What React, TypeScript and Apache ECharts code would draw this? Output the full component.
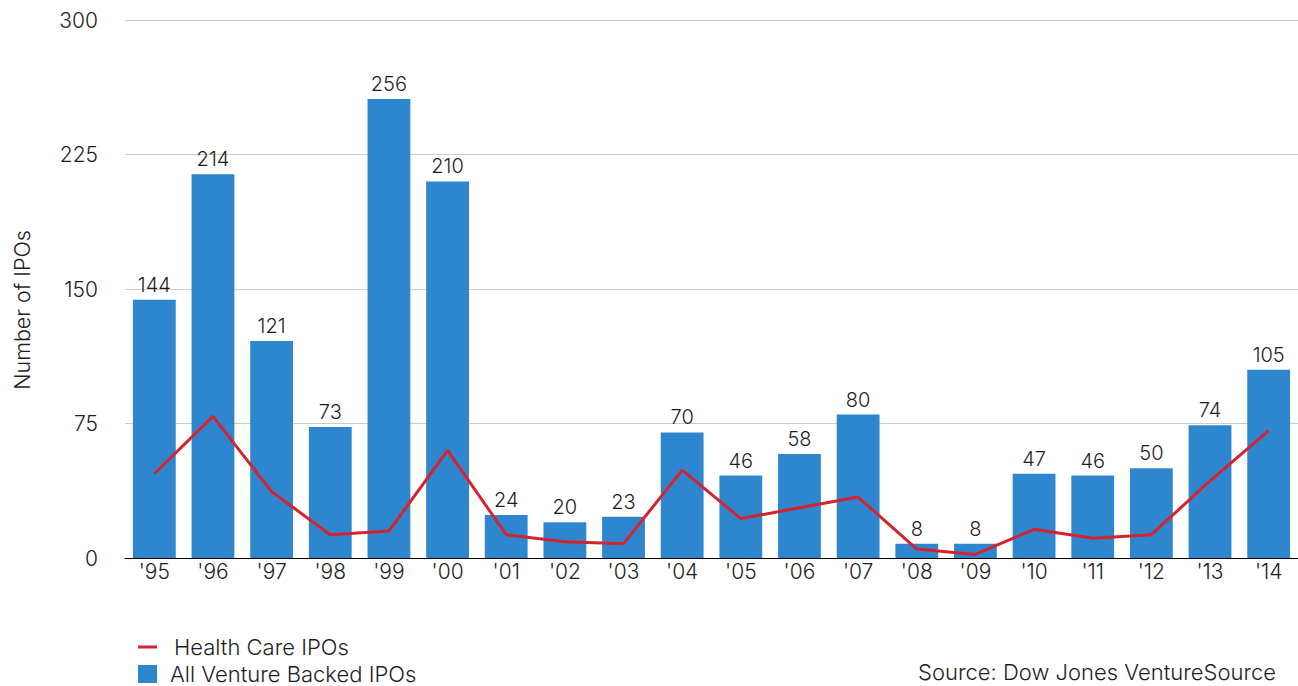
import React, { useEffect, useRef } from "react";
import * as echarts from "echarts";

const years = ["'95", "'96", "'97", "'98", "'99", "'00", "'01", "'02", "'03", "'04", "'05", "'06", "'07", "'08", "'09", "'10", "'11", "'12", "'13", "'14"];
const allVentureIPOs = [144, 214, 121, 73, 256, 210, 24, 20, 23, 70, 46, 58, 80, 8, 8, 47, 46, 50, 74, 105];
const healthCareIPOs = [47, 79, 37, 13, 15, 60, 13, 9, 8, 49, 22, 28, 34, 5, 2, 16, 11, 13, 43, 71];
const yTicks = { min: 0, max: 300, interval: 75 };

const FONT = "Inter";
const W = 300;
const TXT = "#1e1e1e";

export default function App() {
  const ref = useRef<HTMLDivElement>(null);
  useEffect(() => {
    document.body.style.margin = "0";
    const chart = echarts.init(ref.current!, undefined, { renderer: "svg" });
    chart.setOption({
      animation: false,
      textStyle: { fontFamily: FONT, fontWeight: W, color: TXT },
      grid: { left: 125, top: 20, width: 1175, height: 538, containLabel: false },
      legend: [
        {
          left: 138,
          top: 636,
          padding: 0,
          icon: "rect",
          itemWidth: 19,
          itemHeight: 3,
          textStyle: { fontFamily: FONT, fontWeight: W, fontSize: 22, color: TXT, padding: [0, 0, 0, 12] },
          data: ["Health Care IPOs"],
        },
        {
          left: 138,
          top: 663,
          padding: 0,
          icon: "rect",
          itemWidth: 19,
          itemHeight: 18,
          textStyle: { fontFamily: FONT, fontWeight: W, fontSize: 22, color: TXT, padding: [0, 0, 0, 8] },
          data: ["All Venture Backed IPOs"],
        },
      ],
      xAxis: {
        type: "category",
        data: years,
        axisLine: { lineStyle: { color: "#000", width: 1 } },
        axisTick: { show: false },
        axisLabel: { fontFamily: FONT, fontWeight: W, fontSize: 21, color: TXT, margin: 3 },
      },
      yAxis: {
        type: "value",
        min: yTicks.min,
        max: yTicks.max,
        interval: yTicks.interval,
        axisLine: { show: false },
        axisTick: { show: false },
        axisLabel: { fontFamily: FONT, fontWeight: W, fontSize: 21, color: TXT, margin: 27 },
        splitLine: { lineStyle: { color: "#cccccc", width: 1 } },
      },
      series: [
        {
          name: "All Venture Backed IPOs",
          type: "bar",
          data: allVentureIPOs,
          barCategoryGap: "27%",
          itemStyle: { color: "#2e86cf" },
          label: {
            show: true,
            position: "top",
            distance: 5,
            fontFamily: FONT,
            fontWeight: W,
            fontSize: 20,
            color: TXT,
          },
        },
        {
          name: "Health Care IPOs",
          type: "line",
          data: healthCareIPOs,
          symbol: "none",
          lineStyle: { color: "#d3232e", width: 3 },
          itemStyle: { color: "#d3232e" },
          z: 5,
        },
      ],
      graphic: [
        {
          type: "text",
          x: 22,
          y: 310,
          rotation: Math.PI / 2,
          style: {
            text: "Number of IPOs",
            fontFamily: FONT,
            fontWeight: W,
            fontSize: 21.5,
            fill: TXT,
            align: "center",
            verticalAlign: "middle",
          },
        },
        {
          type: "text",
          right: 22,
          top: 661,
          style: {
            text: "Source: Dow Jones VentureSource",
            fontFamily: FONT,
            fontWeight: W,
            fontSize: 22,
            fill: TXT,
          },
        },
      ],
    });
    return () => chart.dispose();
  }, []);
  return <div ref={ref} style={{ width: 1298, height: 686 }} />;
}
